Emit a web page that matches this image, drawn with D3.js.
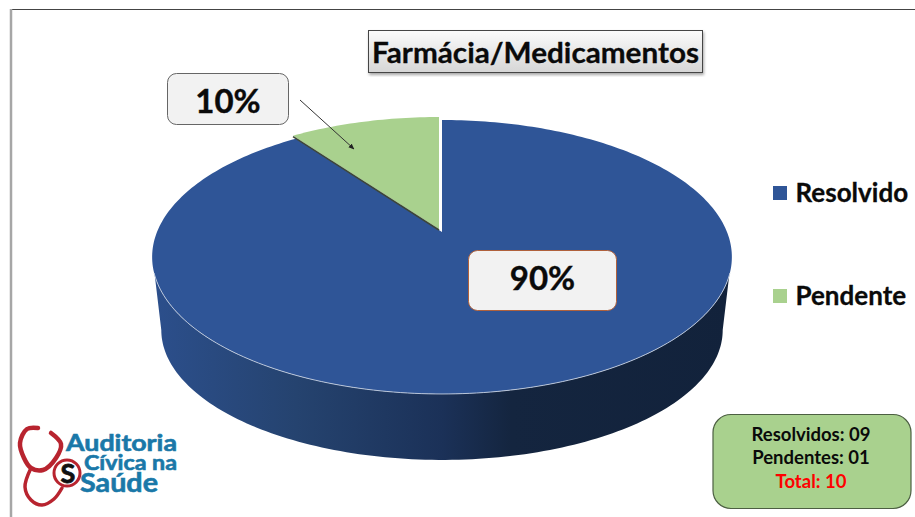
<!DOCTYPE html>
<html>
<head>
<meta charset="utf-8">
<script src="https://cdn.jsdelivr.net/npm/d3@7"></script>
<style>
    html, body { margin: 0; padding: 0; background: #fff; overflow: hidden; }
    text { font-family: Lato, "Noto Sans", sans-serif; font-weight: 700; }
</style>
</head>
<body>
<div id="chart"></div>
<script>
// ==================== donnees ====================//
const categories = ["Resolvido", "Pendente"];
const values = [9, 1];
const summaryNames = ["Resolvidos", "Pendentes"];
const titleText = "Farmácia/Medicamentos";
const colors = ["#2f5597", "#a9d18e"];

// ==================== svg ====================//
const width = 915;
const height = 517;

const svg = d3.select("#chart")
    .append("svg")
    .attr("width", width)
    .attr("height", height);

const defs = svg.append("defs");

const wallGrad = defs.append("linearGradient")
    .attr("id", "wallGrad")
    .attr("gradientUnits", "userSpaceOnUse")
    .attr("x1", 152).attr("x2", 732).attr("y1", 0).attr("y2", 0);
[[0, "#2c4f8c"], [0.25, "#25436f"], [0.5, "#1b3158"], [0.62, "#14253f"], [1, "#12223b"]]
    .forEach(s => wallGrad.append("stop").attr("offset", s[0]).attr("stop-color", s[1]));

const titleGrad = defs.append("linearGradient")
    .attr("id", "titleGrad")
    .attr("x1", 0).attr("x2", 0).attr("y1", 0).attr("y2", 1);
titleGrad.append("stop").attr("offset", 0).attr("stop-color", "#fbfbfb");
titleGrad.append("stop").attr("offset", 1).attr("stop-color", "#d6d6d6");

const shadow = defs.append("filter").attr("id", "shadow");
shadow.append("feDropShadow")
    .attr("dx", 1).attr("dy", 2).attr("stdDeviation", 1.5)
    .attr("flood-color", "#000").attr("flood-opacity", 0.35);

defs.append("marker")
    .attr("id", "arrow")
    .attr("viewBox", "0 0 10 10")
    .attr("refX", 9).attr("refY", 5)
    .attr("markerWidth", 6).attr("markerHeight", 6)
    .attr("orient", "auto")
    .append("path")
    .attr("d", "M0,1 L10,5 L0,9 Z")
    .attr("fill", "#222");

// cadre de la diapo
svg.append("line").attr("x1", 10).attr("x2", 915).attr("y1", 9.5).attr("y2", 9.5)
    .attr("stroke", "#444").attr("stroke-width", 1);
svg.append("line").attr("x1", 11).attr("x2", 11).attr("y1", 9).attr("y2", height)
    .attr("stroke", "#a6a6a6").attr("stroke-width", 2.5);

// ==================== camembert 3D ====================//
// projection en perspective du disque : le centre n'est pas au milieu de l'ellipse
const k = -0.1825;
const topLevel = { cx: 442, cy: 232, a: 285, b: 132.4 };
const bottomLevel = { cx: 442, cy: 306.3, a: 276, b: 125.6 };

function project(angle, level) {
    const u = Math.sin(angle);
    const v = -Math.cos(angle);
    const w = 1 + k * v;
    return [level.cx + level.a * u / w, level.cy + level.b * v / w];
}

function arcPoints(a0, a1, level) {
    const n = Math.max(2, Math.ceil(Math.abs(a1 - a0) / 0.02));
    return d3.range(n + 1).map(i => project(a0 + (a1 - a0) * i / n, level));
}

const line = d3.line();
const rad = d => d * Math.PI / 180;

const pie = d3.pie().sort(null)(values);
const explode = [[0, 0], [-3, -3]];

// flanc avant
const wallTop = arcPoints(rad(108), rad(252), topLevel);
const wallBottom = arcPoints(rad(100.5), rad(259.5), bottomLevel).reverse();
svg.append("path")
    .attr("d", line(wallTop.concat(wallBottom)) + "Z")
    .attr("fill", "url(#wallGrad)");

// faces du dessus
svg.append("g").selectAll("path")
    .data(pie)
    .enter()
    .append("path")
    .attr("transform", (d, i) => `translate(${explode[i][0]},${explode[i][1]})`)
    .attr("d", d => line([[topLevel.cx, topLevel.cy]].concat(arcPoints(d.startAngle, d.endAngle, topLevel))) + "Z")
    .attr("fill", (d, i) => colors[i]);

// tranche sombre sous la part verte
const edge = project(pie[1].startAngle, topLevel);
svg.append("line")
    .attr("x1", edge[0] + explode[1][0]).attr("y1", edge[1] + explode[1][1] + 1)
    .attr("x2", topLevel.cx + explode[1][0]).attr("y2", topLevel.cy + explode[1][1] + 1)
    .attr("stroke", "#3c4638").attr("stroke-width", 1.6);

// liseré clair du bord avant
svg.append("path")
    .attr("d", line(arcPoints(rad(107), rad(253), topLevel)))
    .attr("fill", "none")
    .attr("stroke", "#c4cedf")
    .attr("stroke-width", 0.9);

// ==================== etiquettes ====================//
const total = d3.sum(values);
const percent = v => Math.round(v / total * 100) + "%";

function labelBox(x, y, w, h, txt, stroke, baseline) {
    svg.append("rect")
        .attr("x", x).attr("y", y).attr("width", w).attr("height", h)
        .attr("rx", 9)
        .attr("fill", "#f2f2f2")
        .attr("stroke", stroke);
    svg.append("text")
        .attr("x", x + w / 2).attr("y", baseline)
        .attr("text-anchor", "middle")
        .attr("font-size", 33)
        .attr("fill", "#0a0a0a")
        .attr("stroke", "#0a0a0a")
        .attr("stroke-width", 0.4)
        .text(txt);
}

labelBox(167.5, 73.5, 121, 51, percent(values[1]), "#666", 113);
labelBox(468.5, 250.5, 148, 60, percent(values[0]), "#b0613c", 290);

svg.append("line")
    .attr("x1", 300).attr("y1", 100).attr("x2", 354).attr("y2", 149)
    .attr("stroke", "#333").attr("stroke-width", 1)
    .attr("marker-end", "url(#arrow)");

// ==================== titre ====================//
svg.append("rect")
    .attr("x", 368.5).attr("y", 30.5).attr("width", 334).attr("height", 42)
    .attr("fill", "url(#titleGrad)")
    .attr("stroke", "#444")
    .attr("filter", "url(#shadow)");
svg.append("text")
    .attr("x", 535.5).attr("y", 63)
    .attr("text-anchor", "middle")
    .attr("font-size", 29)
    .attr("textLength", 327)
    .attr("lengthAdjust", "spacingAndGlyphs")
    .attr("fill", "#0a0a0a")
    .attr("stroke", "#0a0a0a")
    .attr("stroke-width", 0.3)
    .text(titleText);

// ==================== legende ====================//
const legendY = [193, 296];
const legend = svg.selectAll("g.legend")
    .data(categories)
    .enter()
    .append("g")
    .attr("class", "legend")
    .attr("transform", (d, i) => `translate(773,${legendY[i]})`);
legend.append("rect")
    .attr("x", 0).attr("y", -7).attr("width", 14).attr("height", 14)
    .attr("fill", (d, i) => colors[i]);
legend.append("text")
    .attr("x", 22.5).attr("y", 9)
    .attr("font-size", 26)
    .attr("fill", "#0a0a0a")
    .attr("stroke", "#0a0a0a")
    .attr("stroke-width", 0.3)
    .text(d => d);

// ==================== resume ====================//
svg.append("rect")
    .attr("x", 713).attr("y", 414.5).attr("width", 198).attr("height", 94)
    .attr("rx", 18)
    .attr("fill", "#a9d18e")
    .attr("stroke", "#4c5f42")
    .attr("stroke-width", 1.2);

const summaryLines = summaryNames.map((n, i) => `${n}: ${String(values[i]).padStart(2, "0")}`);
summaryLines.push(`Total: ${total}`);
svg.selectAll("text.summary")
    .data(summaryLines)
    .enter()
    .append("text")
    .attr("class", "summary")
    .attr("x", 811)
    .attr("y", (d, i) => 440.5 + i * 23.7)
    .attr("text-anchor", "middle")
    .attr("font-size", 18.5)
    .attr("fill", (d, i) => i === 2 ? "#ff0000" : "#0a0a0a")
    .text(d => d);

// ==================== logo ====================//
const logo = svg.append("g");
const red = "#b8242f";
const blue = "#1a78a8";
const tube = d3.line().curve(d3.curveCatmullRom);

logo.append("path")
    .attr("d", tube([[38, 428], [27, 429], [20, 443], [24, 458], [31, 468], [43, 470], [56, 458], [61, 444], [51, 433]]))
    .attr("fill", "none").attr("stroke", red).attr("stroke-width", 4.5).attr("stroke-linecap", "round");
logo.append("path")
    .attr("d", tube([[31, 468], [25, 487], [31, 500], [42, 505], [54, 499], [62, 488]]))
    .attr("fill", "none").attr("stroke", red).attr("stroke-width", 3.5).attr("stroke-linecap", "round");
logo.append("circle")
    .attr("cx", 67).attr("cy", 473).attr("r", 13)
    .attr("fill", "#fff").attr("stroke", red).attr("stroke-width", 3);
logo.append("text")
    .attr("x", 68).attr("y", 483)
    .attr("text-anchor", "middle")
    .attr("font-size", 27)
    .attr("font-weight", 900)
    .attr("fill", "#111")
    .attr("stroke", "#111")
    .attr("stroke-width", 0.8)
    .text("S");

const logoLines = [
    { txt: "Auditoria", x: 66, y: 451, size: 22, len: 111 },
    { txt: "Cívica na", x: 84, y: 470, size: 20, len: 93 },
    { txt: "Saúde", x: 80, y: 492, size: 26, len: 78 }
];
logoLines.forEach(l => {
    logo.append("text")
        .attr("x", l.x).attr("y", l.y)
        .attr("font-size", l.size)
        .attr("font-weight", 900)
        .attr("textLength", l.len)
        .attr("lengthAdjust", "spacingAndGlyphs")
        .attr("fill", blue)
        .attr("stroke", blue)
        .attr("stroke-width", 0.6)
        .text(l.txt);
});
</script>
</body>
</html>
